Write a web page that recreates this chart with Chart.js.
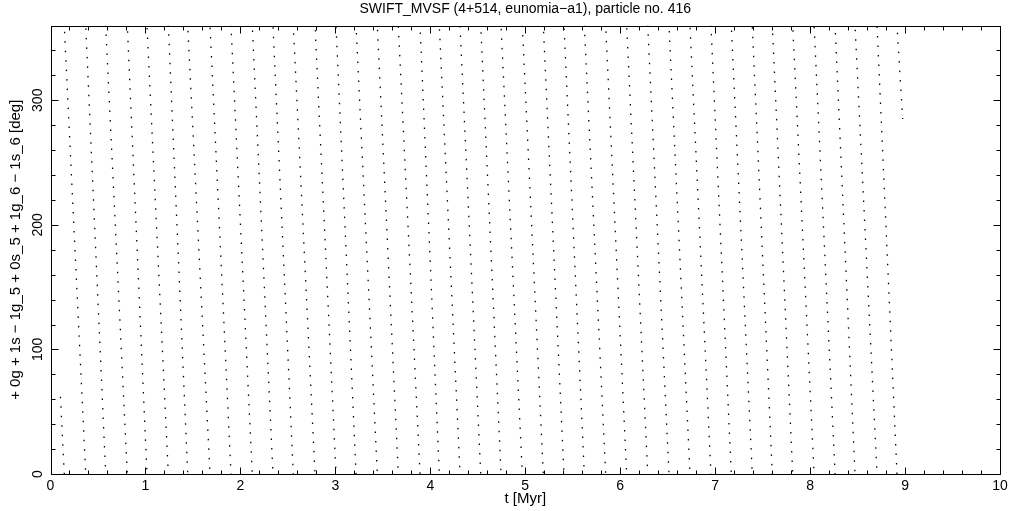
<!DOCTYPE html>
<html>
<head>
<meta charset="utf-8">
<script src="https://cdn.jsdelivr.net/npm/chart.js@4/dist/chart.umd.min.js"></script>
<style>
  html, body { margin: 0; padding: 0; background: #fff; }
</style>
</head>
<body>
<canvas id="chart" width="1021" height="511"></canvas>
<script>
// resonant angle circulates: each stripe runs from 360 deg down to 0 deg
// times (Myr) where the angle wraps through 0 -> 360
const wrapT = [
  0.145, 0.371, 0.581, 0.809, 1.016, 1.241, 1.445, 1.680, 1.901, 2.125,
  2.343, 2.557, 2.786, 3.007, 3.218, 3.442, 3.663, 3.892, 4.095, 4.313,
  4.531, 4.745, 4.969, 5.190, 5.408, 5.622, 5.847, 6.068, 6.290, 6.514,
  6.735, 6.956, 7.170, 7.391, 7.602, 7.817, 8.042, 8.263, 8.473, 8.705,
  8.915
];
// first and last sample of the run
const firstT = 0.105;
const firstAngle = 62;
const lastT = 8.975;
const lastAngle = 285;

const xTicksMajor = [0, 1, 2, 3, 4, 5, 6, 7, 8, 9, 10];
const yTicksMajor = [0, 100, 200, 300];

// one line dataset, null points break it at every wrap
const points = [{x: firstT, y: firstAngle}, {x: wrapT[0], y: 0}, {x: wrapT[0], y: null}];
for (let k = 1; k < wrapT.length; k++) {
  points.push({x: wrapT[k - 1], y: 360});
  points.push({x: wrapT[k], y: 0});
  points.push({x: wrapT[k], y: null});
}
points.push({x: wrapT[wrapT.length - 1], y: 360});
points.push({x: lastT, y: lastAngle});

const FONT = 'Liberation Sans';
const DASH = [1.5, 8];

function isMajor(v, step) {
  return Math.abs(v / step - Math.round(v / step)) < 1e-6;
}

const framePlugin = {
  id: 'frame',
  beforeDraw(chart) {
    const ctx = chart.ctx;
    ctx.save();
    ctx.fillStyle = '#fff';
    ctx.fillRect(0, 0, chart.width, chart.height);
    ctx.restore();
  },
  afterDraw(chart) {
    const {ctx, chartArea: a, scales: {x, y}} = chart;
    ctx.save();
    ctx.strokeStyle = '#000';
    ctx.lineWidth = 1;
    const L = Math.round(a.left) + 0.5, R = Math.round(a.right) + 0.5;
    const T = Math.round(a.top) + 0.5, B = Math.round(a.bottom) + 0.5;
    ctx.strokeRect(L, T, R - L, B - T);

    ctx.beginPath();
    x.ticks.forEach(t => {
      const px = Math.round(x.getPixelForValue(t.value)) + 0.5;
      const len = isMajor(t.value, 1) ? 7 : 4;
      ctx.moveTo(px, B); ctx.lineTo(px, B - len);
      ctx.moveTo(px, T); ctx.lineTo(px, T + len);
    });
    y.ticks.forEach(t => {
      const py = Math.round(y.getPixelForValue(t.value)) + 0.5;
      const len = isMajor(t.value, 100) ? 7 : 4;
      ctx.moveTo(L, py); ctx.lineTo(L + len, py);
      ctx.moveTo(R, py); ctx.lineTo(R - len, py);
    });
    ctx.stroke();

    ctx.fillStyle = '#000';
    ctx.font = '14px "' + FONT + '"';
    ctx.textAlign = 'center';
    ctx.textBaseline = 'middle';
    xTicksMajor.forEach(v => {
      ctx.fillText(String(v), x.getPixelForValue(v), B + 12);
    });
    yTicksMajor.forEach(v => {
      ctx.save();
      ctx.translate(L - 13, y.getPixelForValue(v));
      ctx.rotate(-Math.PI / 2);
      ctx.fillText(String(v), 0, 0);
      ctx.restore();
    });
    ctx.restore();
  }
};

const config = {
  type: 'line',
  data: {
    datasets: [{
      data: points,
      borderColor: '#000',
      borderWidth: 1.3,
      borderDash: DASH,
      pointRadius: 0,
      tension: 0,
      spanGaps: false,
      fill: false,
      // shift the dot phase from stripe to stripe so dots don't line up in rows
      segment: {
        borderDashOffset: ctx => (Math.floor(ctx.p0DataIndex / 3) * 3.3) % (DASH[0] + DASH[1])
      }
    }]
  },
  options: {
    responsive: false,
    animation: false,
    layout: { padding: { left: 0, right: 21, top: 0, bottom: 0 } },
    plugins: {
      legend: { display: false },
      tooltip: { enabled: false },
      title: {
        display: true,
        fullSize: false,
        text: 'SWIFT_MVSF (4+514, eunomia\u2212a1), particle no. 416',
        color: '#000',
        font: { family: FONT, size: 14, weight: 'normal' },
        padding: { top: 1, bottom: 7.7 }
      }
    },
    scales: {
      x: {
        type: 'linear',
        min: 0,
        max: 10,
        ticks: { stepSize: 0.2, display: false },
        grid: { display: false, drawTicks: false },
        border: { display: false },
        title: {
          display: true,
          text: 't [Myr]',
          color: '#000',
          font: { family: FONT, size: 15 },
          padding: { top: 0, bottom: 3 }
        },
        afterFit(scale) { scale.height = 37; }
      },
      y: {
        type: 'linear',
        min: 0,
        max: 360,
        ticks: { stepSize: 20, display: false },
        grid: { display: false, drawTicks: false },
        border: { display: false },
        title: {
          display: true,
          text: '+ 0g + 1s \u2212 1g_5 + 0s_5 + 1g_6 \u2212 1s_6 [deg]',
          color: '#000',
          font: { family: FONT, size: 15 },
          padding: { top: 7, bottom: 0 }
        },
        afterFit(scale) { scale.width = 50.5; }
      }
    }
  },
  plugins: [framePlugin]
};

const myChart = new Chart(document.getElementById('chart'), config);
</script>
</body>
</html>
